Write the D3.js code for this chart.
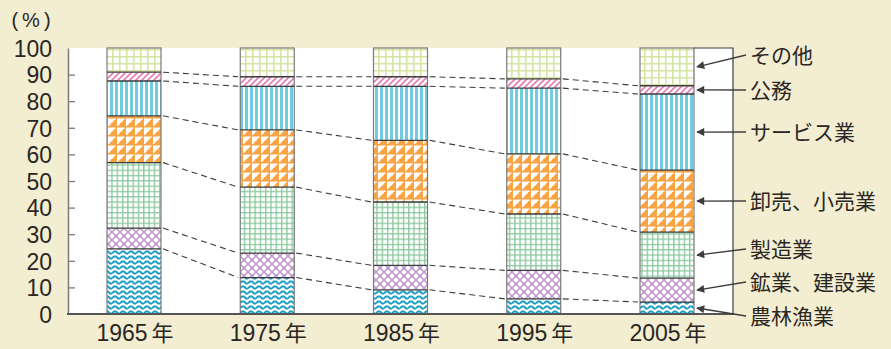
<!DOCTYPE html>
<html>
<head>
<meta charset="utf-8">
<script src="https://cdn.jsdelivr.net/npm/d3@7"></script>
<style>
  html, body { margin: 0; padding: 0; background: #f3eed1; }
  svg { display: block; }
  text { fill: #2a2624; }
</style>
</head>
<body>
<svg id="chart" width="891" height="349"></svg>
<script>
// Employment share by industry (%), bottom segment first
const years = ["1965", "1975", "1985", "1995", "2005"];
const yearSuffix = "年";
const sectors = ["農林漁業", "鉱業、建設業", "製造業", "卸売、小売業", "サービス業", "公務", "その他"];

const agriculture   = [24.5, 13.7,  9.1,  5.7,  4.5];
const mining        = [ 7.8,  9.2,  9.2, 10.7,  9.0];
const manufacturing = [24.6, 24.8, 23.8, 21.2, 17.3];
const trade         = [17.6, 21.5, 23.2, 22.6, 23.3];
const services      = [13.1, 16.4, 20.3, 24.7, 28.6];
const publicService = [ 3.3,  3.6,  3.6,  3.5,  3.1];
const other         = [ 9.1, 10.8, 10.8, 11.6, 14.2];

const yTicks = [0, 10, 20, 30, 40, 50, 60, 70, 80, 90, 100];

const seriesValues = [agriculture, mining, manufacturing, trade, services, publicService, other];

const svg = d3.select("#chart");
const plot = { left: 68, right: 733, top: 48, bottom: 314 };
const barW = 54;

const x = d3.scalePoint().domain(years).range([134, 667]);
const y = d3.scaleLinear().domain([0, 100]).range([plot.bottom, plot.top]);

// rows for the stack
const rows = years.map((yr, i) => {
  const r = { year: yr };
  sectors.forEach((s, k) => { r[s] = seriesValues[k][i]; });
  return r;
});
const stacked = d3.stack().keys(sectors)(rows);

// ---- fill patterns ----
const defs = svg.append("defs");

function pattern(id, w, h, draw) {
  const p = defs.append("pattern").attr("id", id)
    .attr("patternUnits", "userSpaceOnUse").attr("width", w).attr("height", h);
  p.append("rect").attr("width", w).attr("height", h).attr("fill", "#fff");
  draw(p);
}

// wavy lines
pattern("p-agri", 8, 5, p => {
  p.append("path").attr("d", "M0,3.4 L2,1.4 L4,1.4 L6,3.4 L8,3.4")
    .attr("fill", "none").attr("stroke", "#1a9ec6").attr("stroke-width", 2);
});
// diamond lattice
pattern("p-mine", 8, 8, p => {
  p.append("path").attr("d", "M0,0 L8,8 M8,0 L0,8")
    .attr("stroke", "#c294cc").attr("stroke-width", 1.5);
  p.append("circle").attr("cx", 4).attr("cy", 4).attr("r", 1.2)
    .attr("fill", "none").attr("stroke", "#c294cc").attr("stroke-width", 0.8);
});
// fine square grid
pattern("p-manu", 5.3, 5.3, p => {
  p.append("path").attr("d", "M0,0.7 H5.3 M0.7,0 V5.3")
    .attr("stroke", "#8fcaa2").attr("stroke-width", 1.4);
});
// stepped triangles
pattern("p-trade", 9, 9, p => {
  p.append("rect").attr("width", 9).attr("height", 9).attr("fill", "#f8a444");
  p.append("path").attr("d", "M0,1.5 L0,9 L1.5,9 L1.5,7.5 L3,7.5 L3,6 L4.5,6 L4.5,4.5 L6,4.5 L6,3 L7.5,3 L7.5,1.5 Z")
    .attr("fill", "#fff");
});
// vertical stripes
pattern("p-serv", 5, 10, p => {
  p.append("rect").attr("x", 0).attr("width", 3).attr("height", 10).attr("fill", "#72cbe0");
});
// diagonal hatch
pattern("p-pub", 6, 6, p => {
  p.append("path").attr("d", "M-1,7 L7,-1 M-4,4 L4,-4 M2,10 L10,2")
    .attr("stroke", "#e57bb5").attr("stroke-width", 1.6);
});
// coarse grid
pattern("p-other", 7, 7, p => {
  p.append("path").attr("d", "M0,0.8 H7 M0.8,0 V7")
    .attr("stroke", "#d6e4a2").attr("stroke-width", 1.6);
});

const fills = ["p-agri", "p-mine", "p-manu", "p-trade", "p-serv", "p-pub", "p-other"];

// ---- plot background ----
svg.append("rect")
  .attr("x", plot.left).attr("y", plot.top)
  .attr("width", plot.right - plot.left).attr("height", plot.bottom - plot.top)
  .attr("fill", "#fff");

// ---- bars ----
const layers = svg.append("g").selectAll("g").data(stacked).join("g")
  .attr("fill", (d, i) => `url(#${fills[i]})`);

layers.selectAll("rect").data(d => d).join("rect")
  .attr("x", d => x(d.data.year) - barW / 2)
  .attr("y", d => y(d[1]))
  .attr("width", barW)
  .attr("height", d => y(d[0]) - y(d[1]));

// bar outlines
svg.append("g").selectAll("rect").data(years).join("rect")
  .attr("x", d => x(d) - barW / 2).attr("y", plot.top)
  .attr("width", barW).attr("height", plot.bottom - plot.top)
  .attr("fill", "none").attr("stroke", "#7a7a7a").attr("stroke-width", 1.2);

// segment boundaries
const bounds = [];
stacked.slice(0, -1).forEach(layer => {
  layer.forEach(d => bounds.push({ year: d.data.year, v: d[1] }));
});
svg.append("g").selectAll("line").data(bounds).join("line")
  .attr("x1", d => x(d.year) - barW / 2).attr("x2", d => x(d.year) + barW / 2)
  .attr("y1", d => y(d.v)).attr("y2", d => y(d.v))
  .attr("stroke", "#3d3d3d").attr("stroke-width", 1.3);

// dashed connectors between neighbouring bars
const links = [];
stacked.slice(0, -1).forEach(layer => {
  for (let i = 0; i < layer.length - 1; i++) {
    links.push({ a: layer[i], b: layer[i + 1] });
  }
});
svg.append("g").selectAll("line").data(links).join("line")
  .attr("x1", d => x(d.a.data.year) + barW / 2 + 2)
  .attr("y1", d => y(d.a[1]))
  .attr("x2", d => x(d.b.data.year) - barW / 2 - 2)
  .attr("y2", d => y(d.b[1]))
  .attr("stroke", "#3d3d3d").attr("stroke-width", 1.1)
  .attr("stroke-dasharray", "6,4");

// ---- axes ----
const yAxis = d3.axisLeft(y).tickValues(yTicks).tickSizeInner(-7).tickSizeOuter(0).tickPadding(16);
const gy = svg.append("g").attr("transform", `translate(${plot.left},0)`).call(yAxis);
gy.select(".domain").attr("stroke", "#7a7a7a").attr("stroke-width", 1.5);
gy.selectAll(".tick line").attr("stroke", "#7a7a7a").attr("stroke-width", 1.3)
  .attr("display", d => (d === 0 || d === 100) ? "none" : null);
gy.selectAll(".tick text")
  .attr("font-family", "'Liberation Sans', Arial, sans-serif")
  .attr("font-size", 23).attr("fill", "#2a2624").attr("dy", "0.36em");

// baseline and right frame
svg.append("line").attr("x1", plot.left - 1).attr("x2", plot.right + 1)
  .attr("y1", plot.bottom).attr("y2", plot.bottom)
  .attr("stroke", "#555").attr("stroke-width", 2);
svg.append("path")
  .attr("d", `M${x(years[4]) + barW / 2},${plot.top} H${plot.right} V${plot.bottom}`)
  .attr("fill", "none").attr("stroke", "#3d3d3d").attr("stroke-width", 1.2);

// x labels: year digits plus 年 with a small gap
const xl = svg.append("g").selectAll("text").data(years).join("text")
  .attr("x", d => x(d) + 1).attr("y", 333).attr("dy", "0.36em")
  .attr("text-anchor", "middle")
  .attr("font-family", "'Liberation Sans', Arial, sans-serif")
  .attr("font-size", 23);
xl.append("tspan").text(d => d);
xl.append("tspan").attr("dx", 4)
  .attr("font-family", "'Noto Sans CJK JP', sans-serif").attr("font-size", 22)
  .text(yearSuffix);

// unit label
svg.append("text").attr("x", 33).attr("y", 20).attr("dy", "0.36em")
  .attr("text-anchor", "middle")
  .attr("font-family", "'Liberation Sans', Arial, sans-serif").attr("font-size", 20)
  .attr("letter-spacing", 4)
  .text("(%)");

// ---- legend labels with arrows ----
defs.append("marker").attr("id", "arrow")
  .attr("viewBox", "0 0 10 10").attr("refX", 9).attr("refY", 5)
  .attr("markerUnits", "userSpaceOnUse")
  .attr("markerWidth", 10).attr("markerHeight", 8).attr("orient", "auto")
  .append("path").attr("d", "M0,0 L10,5 L0,10 Z").attr("fill", "#3d3d3d");

const last = stacked.map(layer => layer[layer.length - 1]);
const labelY = [316, 282, 249, 201, 132, 90, 55];
const barRight = x(years[4]) + barW / 2;

const legend = svg.append("g");
legend.selectAll("line").data(last).join("line")
  .attr("x1", 746).attr("y1", (d, i) => labelY[i])
  .attr("x2", barRight + 3).attr("y2", d => y((d[0] + d[1]) / 2))
  .attr("stroke", "#3d3d3d").attr("stroke-width", 1.3)
  .attr("marker-end", "url(#arrow)");

legend.selectAll("text").data(sectors).join("text")
  .attr("x", 750).attr("y", (d, i) => labelY[i]).attr("dy", "0.36em")
  .attr("font-family", "'Noto Sans CJK JP', sans-serif").attr("font-size", 21)
  .text(d => d);
</script>
</body>
</html>
